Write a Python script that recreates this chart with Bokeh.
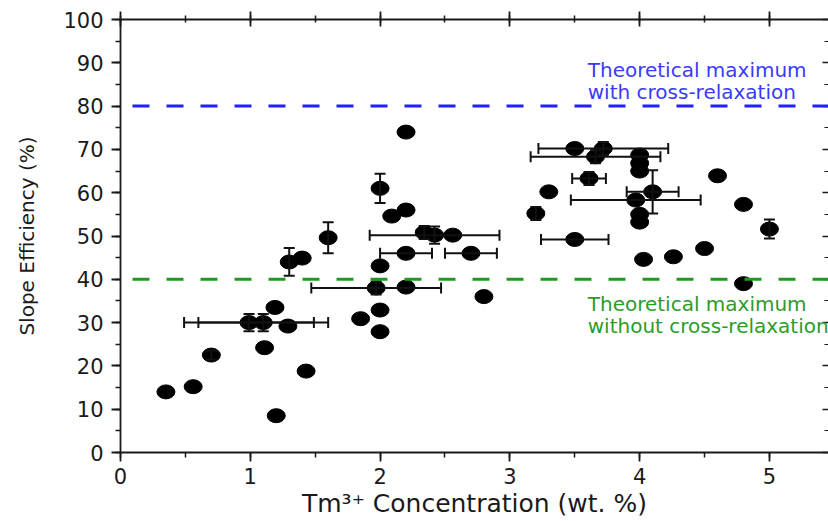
from bokeh.plotting import figure
from bokeh.models import (ColumnDataSource, Whisker, TeeHead, Span, Label,
                          LinearAxis, SingleIntervalTicker, CustomJSTickFormatter)
from bokeh.embed import file_html
from bokeh.resources import INLINE

# ---- data ----
conc = [0.35, 0.56, 0.70, 0.99, 1.10, 1.11, 1.19, 1.20, 1.29, 1.30,
        1.40, 1.43, 1.60, 1.85, 1.97, 2.00, 2.00, 2.00, 2.00, 2.09,
        2.20, 2.20, 2.20, 2.20, 2.34, 2.42, 2.56, 2.70, 2.80, 3.20,
        3.30, 3.50, 3.72, 3.66, 3.61, 3.50, 4.00, 4.00, 4.00, 3.97,
        4.10, 4.00, 4.00, 4.03, 4.26, 4.50, 4.60, 4.80, 4.80, 5.00]
slope = [14.0, 15.2, 22.5, 30.0, 30.0, 24.2, 33.5, 8.5, 29.2, 44.0,
         44.9, 18.8, 49.6, 30.9, 38.0, 43.1, 32.9, 27.9, 61.0, 54.6,
         56.0, 74.0, 46.0, 38.2, 50.8, 50.2, 50.2, 46.0, 36.0, 55.2,
         60.2, 70.2, 70.2, 68.3, 63.3, 49.2, 68.7, 66.8, 65.0, 58.3,
         60.2, 55.0, 53.2, 44.6, 45.2, 47.1, 63.9, 57.3, 39.0, 51.6]
conc_err = [0, 0, 0, 0.5, 0.5, 0, 0, 0, 0, 0,
            0, 0, 0, 0, 0.5, 0, 0, 0, 0, 0,
            0, 0, 0.2, 0, 0, 0.5, 0, 0.2, 0, 0,
            0, 0, 0.5, 0.5, 0.13, 0.26, 0, 0, 0, 0.5,
            0.2, 0, 0, 0, 0, 0, 0, 0, 0, 0]
slope_err = [0, 0, 1.0, 2.0, 2.0, 0, 0, 0, 0, 3.2,
             0, 0, 3.6, 0, 1.5, 0, 0, 0, 3.4, 0,
             0, 0, 0, 0, 1.5, 2.0, 0, 0, 0, 1.5,
             0, 0, 1.5, 1.5, 1.5, 0, 0, 0, 0, 0,
             5.0, 0, 0, 0, 0, 0, 0, 0, 0, 2.2]

max_with_cr = 80
max_without_cr = 40
note_with = ["Theoretical maximum", "with cross-relaxation"]
note_without = ["Theoretical maximum", "without cross-relaxation"]
note_x = 3.6
note_with_y = [88.3, 83.2]
note_without_y = [34.2, 29.2]

x_ticks_interval = 1
y_ticks_interval = 10

FONT = "DejaVu Sans"
TXT = "#1a1a1a"

p = figure(width=828, height=521, x_range=(0, 5.455), y_range=(0, 100),
           output_backend="svg", toolbar_location=None,
           min_border_left=120, min_border_right=0, min_border_top=19,
           min_border_bottom=69)
p.outline_line_color = None
p.xgrid.visible = False
p.ygrid.visible = False
p.background_fill_color = "white"
p.border_fill_color = "white"

xt = SingleIntervalTicker(interval=x_ticks_interval, num_minor_ticks=2)
yt = SingleIntervalTicker(interval=y_ticks_interval, num_minor_ticks=2)

for ax in (p.xaxis[0], p.yaxis[0]):
    ax.ticker = xt if ax is p.xaxis[0] else yt
    ax.axis_line_width = 1.8
    ax.axis_line_color = TXT
    ax.major_tick_line_width = 1.8
    ax.minor_tick_line_width = 1.5
    ax.major_tick_line_color = TXT
    ax.minor_tick_line_color = TXT
    ax.major_tick_in = 0
    ax.major_tick_out = 9
    ax.minor_tick_in = 0
    ax.minor_tick_out = 5
    ax.major_label_text_font = FONT
    ax.major_label_text_font_size = "21px"
    ax.major_label_text_color = TXT
    ax.axis_label_text_font = FONT
    ax.axis_label_text_font_style = "normal"
    ax.axis_label_text_color = TXT

p.xaxis.axis_label = "Tm\u00b3\u207a Concentration (wt. %)"
p.xaxis.axis_label_text_font_size = "25px"
p.xaxis.major_label_standoff = 6
p.xaxis.axis_label_standoff = 2
p.yaxis.axis_label = "Slope Efficiency (%)"
p.yaxis.axis_label_text_font_size = "20px"
p.yaxis.major_label_standoff = 8
p.yaxis.axis_label_standoff = 21

blank = CustomJSTickFormatter(code="return ''")

top = LinearAxis(ticker=SingleIntervalTicker(interval=x_ticks_interval, num_minor_ticks=2),
                 formatter=blank,
                 axis_line_width=1.8, axis_line_color=TXT,
                 major_tick_line_width=1.8, minor_tick_line_width=1.5,
                 major_tick_line_color=TXT, minor_tick_line_color=TXT,
                 major_tick_in=7, major_tick_out=8, minor_tick_in=3, minor_tick_out=4,
                 major_label_standoff=0)
p.add_layout(top, "above")

right = LinearAxis(ticker=SingleIntervalTicker(interval=y_ticks_interval, num_minor_ticks=2),
                   formatter=blank,
                   axis_line_color=None,
                   major_tick_line_width=1.5, minor_tick_line_width=1.2,
                   major_tick_line_color=TXT, minor_tick_line_color=TXT,
                   major_tick_in=6, major_tick_out=0, minor_tick_in=4, minor_tick_out=0,
                   major_label_standoff=0)
p.add_layout(right, "right")

# theoretical limits
p.add_layout(Span(location=max_with_cr, dimension="width", line_color="#1f1fff",
                  line_width=3, line_dash="17 17", line_dash_offset=22))
p.add_layout(Span(location=max_without_cr, dimension="width", line_color="#1f9a1f",
                  line_width=3, line_dash="17 17", line_dash_offset=22))

for txt, yy in zip(note_with, note_with_y):
    p.add_layout(Label(x=note_x, y=yy, text=txt, text_color="#3a3aff",
                       text_font=FONT, text_font_size="20px", text_baseline="middle"))
for txt, yy in zip(note_without, note_without_y):
    p.add_layout(Label(x=note_x, y=yy, text=txt, text_color="#2a9c2a",
                       text_font=FONT, text_font_size="20px", text_baseline="middle"))

# error bars
xe = [(x, y, e) for x, y, e in zip(conc, slope, conc_err) if e > 0]
ye = [(x, y, e) for x, y, e in zip(conc, slope, slope_err) if e > 0]
xsrc = ColumnDataSource(dict(y=[t[1] for t in xe],
                             lo=[t[0] - t[2] for t in xe],
                             hi=[t[0] + t[2] for t in xe]))
ysrc = ColumnDataSource(dict(x=[t[0] for t in ye],
                             lo=[t[1] - t[2] for t in ye],
                             hi=[t[1] + t[2] for t in ye]))
for src, base, dim in ((xsrc, "y", "width"), (ysrc, "x", "height")):
    w = Whisker(source=src, base=base, lower="lo", upper="hi", dimension=dim,
                line_color="#111111", line_width=2,
                upper_head=TeeHead(size=11, line_width=2, line_color="#111111"),
                lower_head=TeeHead(size=11, line_width=2, line_color="#111111"))
    w.level = "glyph"
    p.add_layout(w)

src = ColumnDataSource(dict(x=conc, y=slope))
p.ellipse(x="x", y="y", width=18, height=14, width_units="screen",
          height_units="screen", source=src, fill_color="black", line_color="black")

open("out.html", "w").write(file_html(p, INLINE))
